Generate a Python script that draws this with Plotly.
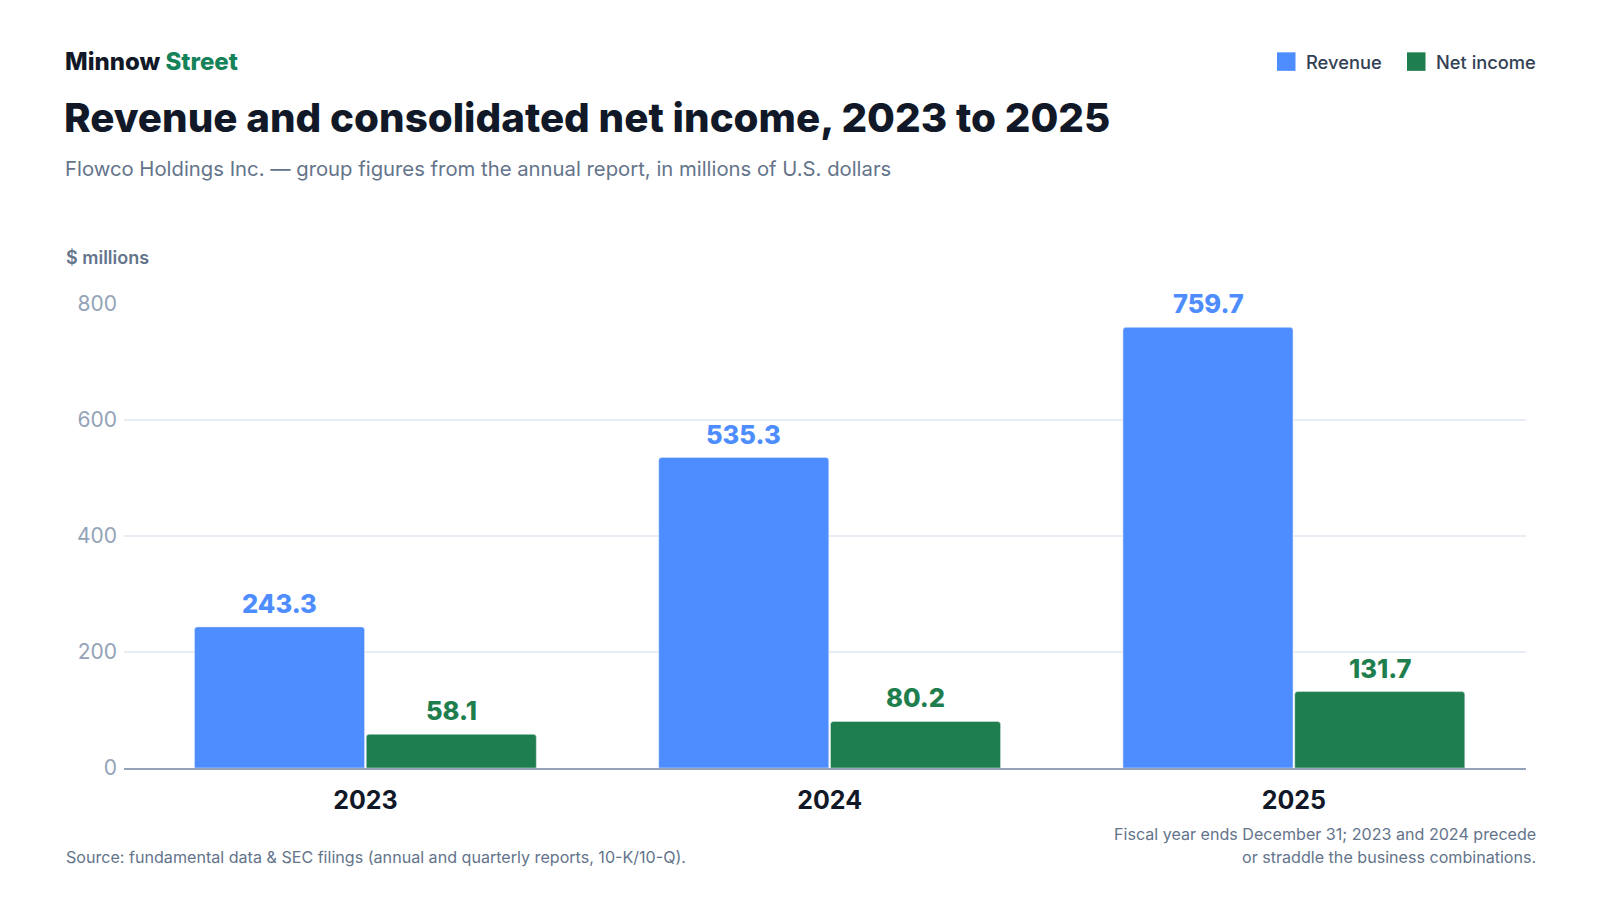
import plotly.graph_objects as go

years = ["2023", "2024", "2025"]
revenue = [243.3, 535.3, 759.7]
net_income = [58.1, 80.2, 131.7]
y_ticks = [0, 200, 400, 600, 800]

REV_C = "#4d8dff"
NI_C = "#1e7e4e"
FONT = "Inter"

OFF = 8  # page body margin offset
W, H = 1600 - OFF, 900 - OFF
L, R, T, B = 124 - OFF, 74, 304 - OFF, 132.3
PW = W - L - R
PH = H - T - B

BARGAP = 0.26
BARGROUPGAP = 0.01


def px(x):
    return (x - OFF - L) / PW


def py(y):
    return (H - B - (y - OFF)) / PH


fig = go.Figure()
fig.add_trace(go.Bar(name="Revenue", x=years, y=revenue, marker_color=REV_C))
fig.add_trace(go.Bar(name="Net income", x=years, y=net_income, marker_color=NI_C))

ann = []
# value labels, positioned at the bar centres of the grouped layout
slot = (1 - BARGAP) / 2
for series, color, sign in [(revenue, REV_C, -1), (net_income, NI_C, 1)]:
    for i, v in enumerate(series):
        ann.append(dict(text=f"{v:.1f}", x=i + sign * slot / 2, y=v,
                        xref="x", yref="y", xanchor="center", yanchor="middle",
                        yshift=23.5, showarrow=False,
                        font=dict(family=FONT, size=25.5, color=color, weight=800)))

txt = []
txt.append(dict(text="Minnow <span style='color:#15835a'>Street</span>",
                x=px(63), y=py(62), xanchor="left", yanchor="middle",
                font=dict(family=FONT, size=24, color="#111827", weight=800)))
txt.append(dict(text="Revenue and consolidated net income, 2023 to 2025",
                x=px(62), y=py(118), xanchor="left", yanchor="middle",
                font=dict(family=FONT, size=40.3, color="#111827", weight=800)))
txt.append(dict(text="Flowco Holdings Inc. — group figures from the annual report, in millions of U.S. dollars",
                x=px(63), y=py(169), xanchor="left", yanchor="middle",
                font=dict(family=FONT, size=20.3, color="#64748b")))
txt.append(dict(text="$ millions",
                x=px(64), y=py(258), xanchor="left", yanchor="middle",
                font=dict(family=FONT, size=18, color="#64748b", weight=600)))
txt.append(dict(text="Source: fundamental data & SEC filings (annual and quarterly reports, 10-K/10-Q).",
                x=px(64), y=py(857), xanchor="left", yanchor="middle",
                font=dict(family=FONT, size=16.1, color="#64748b")))
txt.append(dict(text="Fiscal year ends December 31; 2023 and 2024 precede",
                x=px(1538), y=py(833.5), xanchor="right", yanchor="middle",
                font=dict(family=FONT, size=16.1, color="#64748b")))
txt.append(dict(text="or straddle the business combinations.",
                x=px(1538), y=py(857), xanchor="right", yanchor="middle",
                font=dict(family=FONT, size=16.1, color="#64748b")))
# legend
txt.append(dict(text="Revenue", x=px(1384), y=py(62), xanchor="right", yanchor="middle",
                font=dict(family=FONT, size=18.3, color="#334155", weight=500)))
txt.append(dict(text="Net income", x=px(1538), y=py(62), xanchor="right", yanchor="middle",
                font=dict(family=FONT, size=18.3, color="#334155", weight=500)))
for a in txt:
    a.update(xref="paper", yref="paper", showarrow=False)
ann.extend(txt)

shapes = []
for x0, c in [(1277, REV_C), (1407, NI_C)]:
    shapes.append(dict(type="rect", xref="paper", yref="paper",
                       x0=px(x0), x1=px(x0 + 18.5), y0=py(71), y1=py(52.5),
                       fillcolor=c, line=dict(width=0), layer="above"))

fig.update_layout(
    width=W, height=H,
    margin=dict(l=L, r=R, t=T, b=B, pad=0),
    paper_bgcolor="white", plot_bgcolor="white",
    barmode="group", bargap=BARGAP, bargroupgap=BARGROUPGAP, barcornerradius=3,
    showlegend=False,
    annotations=ann, shapes=shapes,
    font=dict(family=FONT),
    xaxis=dict(range=[-0.52, 2.5], showgrid=False, showline=True,
               linecolor="#94a3b8", linewidth=2, ticks="",
               tickfont=dict(family=FONT, size=25, color="#111827", weight=700),
               ticklabelstandoff=9, fixedrange=True),
    yaxis=dict(range=[0, 800], tickvals=y_ticks, showgrid=True,
               gridcolor="#e8edf3", gridwidth=1.5, zeroline=False,
               showline=False, ticks="", ticklabelstandoff=6,
               tickfont=dict(family=FONT, size=21, color="#94a3b8"),
               fixedrange=True),
)

fig.write_html("out.html")
